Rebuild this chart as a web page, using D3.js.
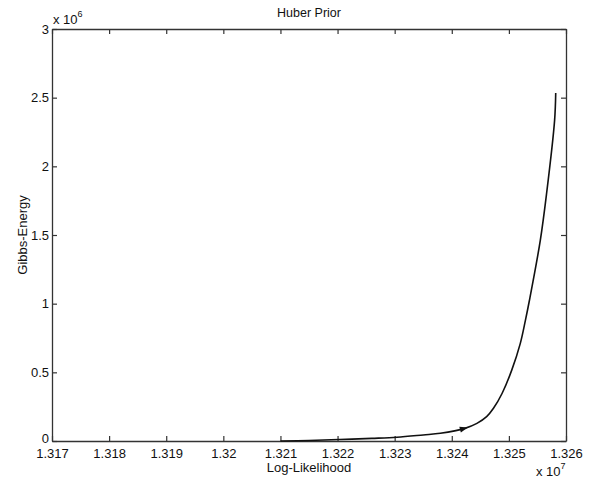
<!DOCTYPE html>
<html>
<head>
<meta charset="utf-8">
<script src="https://cdn.jsdelivr.net/npm/d3@7/dist/d3.min.js"></script>
<style>
  body { margin: 0; background: #fff; }
  text { font-family: "Liberation Sans", Arial, sans-serif; fill: #111; }
</style>
</head>
<body>
<svg width="592" height="481"></svg>
<script>
// Data (x in units of 1e7, y in units of 1e6)
const logLik = [1.32100, 1.32150, 1.32204, 1.32260, 1.32304, 1.32350, 1.32380, 1.32423, 1.32444,
                1.32461, 1.32473, 1.32488, 1.32505, 1.32520, 1.32529, 1.32536,
                1.32555, 1.32566, 1.32580, 1.32582]
const gibbs = [0.000, 0.004, 0.011, 0.019, 0.027, 0.044, 0.056, 0.092, 0.128,
               0.177, 0.238, 0.346, 0.516, 0.711, 0.880, 1.025,
               1.461, 1.802, 2.333, 2.534]
const markerX = [1.32423]
const markerY = [0.092]
const xTicks = [1.317, 1.318, 1.319, 1.32, 1.321, 1.322, 1.323, 1.324, 1.325, 1.326]
const yTicks = [0, 0.5, 1, 1.5, 2, 2.5, 3]

// Margins
const width = 592, height = 481
const margin = { top: 29, right: 26, bottom: 40, left: 52 }

const svg = d3.select("svg")

const x = d3.scaleLinear()
    .domain([1.317, 1.326])
    .range([margin.left, width - margin.right])
const y = d3.scaleLinear()
    .domain([0, 3])
    .range([height - margin.bottom, margin.top])

const fmt = d => String(+d.toFixed(3))

// axes with inward ticks (all four sides)
svg.append("g")
    .attr("transform", `translate(0,${height - margin.bottom})`)
    .call(d3.axisBottom(x).tickValues(xTicks).tickFormat(fmt).tickSizeInner(-5).tickSizeOuter(0).tickPadding(8))
svg.append("g")
    .attr("transform", `translate(0,${margin.top})`)
    .call(d3.axisTop(x).tickValues(xTicks).tickFormat("").tickSizeInner(-5).tickSizeOuter(0))
const yAxisG = svg.append("g")
    .attr("transform", `translate(${margin.left},0)`)
    .call(d3.axisLeft(y).tickValues(yTicks).tickFormat(d => String(d)).tickSizeInner(-5).tickSizeOuter(0).tickPadding(3))
svg.append("g")
    .attr("transform", `translate(${width - margin.right},0)`)
    .call(d3.axisRight(y).tickValues(yTicks).tickFormat("").tickSizeInner(-5).tickSizeOuter(0))

svg.selectAll(".domain").attr("stroke", "#333").attr("stroke-width", 1.3)
svg.selectAll(".tick line").attr("stroke", "#333").attr("stroke-width", 1.2)
svg.selectAll(".tick text").style("font-size", "13px").attr("fill", "#111")
// the zero label sits just above the first x label, like in the original
yAxisG.selectAll(".tick text").filter(d => d === 0).attr("dy", "0.1em")

// curve
const line = d3.line()
    .x((d, i) => x(logLik[i]))
    .y(d => y(d))
    .curve(d3.curveCatmullRom.alpha(0.5))
svg.append("path")
    .datum(gibbs)
    .attr("fill", "none")
    .attr("stroke", "#111")
    .attr("stroke-width", 1.6)
    .attr("d", line)

// small arrow marker on the curve
svg.selectAll(".marker").data(markerX).join("path")
    .attr("class", "marker")
    .attr("transform", (d, i) => `translate(${x(d)},${y(markerY[i])}) rotate(-15)`)
    .attr("d", "M-5,-3 L3,0 L-5,3 Z")
    .attr("fill", "#111")

// title
svg.append("text")
    .attr("x", (margin.left + width - margin.right) / 2)
    .attr("y", 17)
    .attr("text-anchor", "middle")
    .style("font-size", "12.5px")
    .text("Huber Prior")

// x-axis label
svg.append("text")
    .attr("x", (margin.left + width - margin.right) / 2)
    .attr("y", 472)
    .attr("text-anchor", "middle")
    .style("font-size", "13px")
    .text("Log-Likelihood")

// y-axis label
svg.append("text")
    .attr("transform", `translate(27,${(margin.top + height - margin.bottom) / 2}) rotate(-90)`)
    .attr("text-anchor", "middle")
    .style("font-size", "13px")
    .text("Gibbs-Energy")

// exponent labels
const e6 = svg.append("text").attr("x", 53).attr("y", 24).style("font-size", "13px")
e6.append("tspan").text("x 10")
e6.append("tspan").attr("dy", -7).style("font-size", "9px").text("6")

const e7 = svg.append("text").attr("x", 536).attr("y", 476).style("font-size", "13px")
e7.append("tspan").text("x 10")
e7.append("tspan").attr("dy", -7).style("font-size", "9px").text("7")
</script>
</body>
</html>
